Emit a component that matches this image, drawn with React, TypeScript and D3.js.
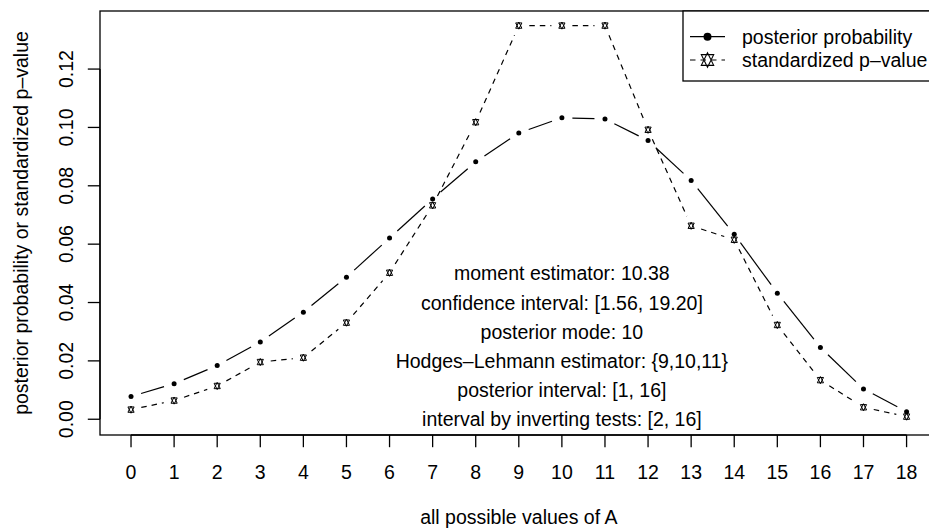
import React from "react";
import * as d3 from "d3";

const possibleA = [0, 1, 2, 3, 4, 5, 6, 7, 8, 9, 10, 11, 12, 13, 14, 15, 16, 17, 18];
const posteriorProb = [
  0.0078, 0.0122, 0.0184, 0.0265, 0.0367, 0.0487, 0.0621, 0.0755, 0.0882, 0.0981,
  0.1033, 0.1029, 0.0955, 0.0818, 0.0634, 0.0432, 0.0246, 0.0104, 0.0026,
];
const stdPValue = [
  0.0033, 0.0064, 0.0114, 0.0196, 0.0211, 0.0331, 0.0502, 0.0733, 0.1018, 0.1349,
  0.1349, 0.1349, 0.0992, 0.0663, 0.0615, 0.0323, 0.0134, 0.0041, 0.0009,
];
const yTicks = [0, 0.02, 0.04, 0.06, 0.08, 0.1, 0.12];
const annotations = [
  "moment estimator: 10.38",
  "confidence interval: [1.56, 19.20]",
  "posterior mode: 10",
  "Hodges\u2013Lehmann estimator: {9,10,11}",
  "posterior interval: [1, 16]",
  "interval by inverting tests: [2, 16]",
];
const annotationY = [0.05, 0.04, 0.03, 0.02, 0.01, 0.0];
const annotationX = 10;
const legendLabels = ["posterior probability", "standardized p\u2013value"];
const xTitle = "all possible values of A";
const yTitle = "posterior probability or standardized p\u2013value";

const W = 929;
const H = 529;
const FONT = "'Liberation Sans', Arial, Helvetica, sans-serif";
const FS = 19.5;

function starPath(cx: number, cy: number, s: number) {
  const r = 1.5551 * s;
  const yc = 0.5 * (0.7776 * s + r);
  const xc = 1.3468 * s;
  const up = `M${cx},${cy - r}L${cx + xc},${cy + yc}L${cx - xc},${cy + yc}Z`;
  const dn = `M${cx},${cy + r}L${cx + xc},${cy - yc}L${cx - xc},${cy - yc}Z`;
  return up + dn;
}

function gapSegments(pts: [number, number][], gap: number) {
  const segs: [number, number, number, number][] = [];
  for (let i = 1; i < pts.length; i++) {
    const [x0, y0] = pts[i - 1];
    const [x1, y1] = pts[i];
    const len = Math.hypot(x1 - x0, y1 - y0);
    const f = gap / len;
    if (f < 0.5) {
      segs.push([
        x0 + f * (x1 - x0),
        y0 + f * (y1 - y0),
        x1 - f * (x1 - x0),
        y1 - f * (y1 - y0),
      ]);
    }
  }
  return segs;
}

export default function App() {
  const x = d3.scaleLinear().domain([-0.72, 18.72]).range([100, 937.6]);
  const y = d3.scaleLinear().domain([-0.0054, 0.1399]).range([435, 11]);
  const left = x.range()[0];
  const right = x.range()[1];
  const top = y.range()[1];
  const bottom = y.range()[0];

  const postPts: [number, number][] = possibleA.map((a, i) => [x(a), y(posteriorProb[i])]);
  const pvPts: [number, number][] = possibleA.map((a, i) => [x(a), y(stdPValue[i])]);
  const GAP = 10.5;
  const postSegs = gapSegments(postPts, GAP);
  const pvSegs = gapSegments(pvPts, GAP);

  const xTickVals = x.ticks(19).filter((t) => Number.isInteger(t) && t >= 0 && t <= 18);

  const legX = 683;
  const legTop = top;
  const legRows = [36.7, 60];

  return (
    <svg
      width={W}
      height={H}
      viewBox={`0 0 ${W} ${H}`}
      style={{ position: "absolute", left: 0, top: 0, background: "#fff" }}
      fontFamily={FONT}
    >
      <rect x={0} y={0} width={W} height={H} fill="#fff" />
      {/* lines */}
      {postSegs.map((s, i) => (
        <line key={"ps" + i} x1={s[0]} y1={s[1]} x2={s[2]} y2={s[3]} stroke="#000" strokeWidth={1.2} />
      ))}
      {pvSegs.map((s, i) => (
        <line
          key={"vs" + i}
          x1={s[0]}
          y1={s[1]}
          x2={s[2]}
          y2={s[3]}
          stroke="#000"
          strokeWidth={1.2}
          strokeDasharray="5.5,5"
        />
      ))}
      {/* points */}
      {postPts.map((p, i) => (
        <circle key={"pp" + i} cx={p[0]} cy={p[1]} r={2.5} fill="#000" />
      ))}
      {pvPts.map((p, i) => (
        <path key={"vp" + i} d={starPath(p[0], p[1], 2.3)} fill="none" stroke="#000" strokeWidth={1} />
      ))}
      {/* annotations */}
      {annotations.map((t, i) => (
        <text
          key={"an" + i}
          x={x(annotationX)}
          y={y(annotationY[i]) + 0.36 * FS}
          fontSize={FS}
          textAnchor="middle"
          fill="#000"
        >
          {t}
        </text>
      ))}
      {/* box */}
      <rect x={left} y={top} width={right - left} height={bottom - top} fill="none" stroke="#000" strokeWidth={1.3} />
      {/* x axis */}
      <line x1={x(0)} x2={x(18)} y1={bottom} y2={bottom} stroke="#000" strokeWidth={1.3} />
      {xTickVals.map((t) => (
        <g key={"xt" + t}>
          <line x1={x(t)} x2={x(t)} y1={bottom} y2={bottom + 12.2} stroke="#000" strokeWidth={1.3} />
          <text x={x(t)} y={478.5} fontSize={FS} textAnchor="middle" fill="#000">
            {String(t)}
          </text>
        </g>
      ))}
      {/* y axis */}
      <line x1={left} x2={left} y1={y(0)} y2={y(0.12)} stroke="#000" strokeWidth={1.3} />
      {yTicks.map((t) => (
        <g key={"yt" + t}>
          <line x1={left - 12.2} x2={left} y1={y(t)} y2={y(t)} stroke="#000" strokeWidth={1.3} />
          <text
            transform={`translate(${73},${y(t)}) rotate(-90)`}
            fontSize={FS}
            textAnchor="middle"
            fill="#000"
          >
            {d3.format(".2f")(t)}
          </text>
        </g>
      ))}
      {/* titles */}
      <text x={(left + right) / 2} y={524} fontSize={FS} textAnchor="middle" fill="#000">
        {xTitle}
      </text>
      <text
        transform={`translate(28,${(top + bottom) / 2}) rotate(-90)`}
        fontSize={FS}
        textAnchor="middle"
        fill="#000"
      >
        {yTitle}
      </text>
      {/* legend */}
      <rect x={legX} y={legTop} width={right - legX} height={81 - legTop} fill="#fff" stroke="#000" strokeWidth={1.3} />
      <line x1={690} x2={725} y1={legRows[0]} y2={legRows[0]} stroke="#000" strokeWidth={1.2} />
      <circle cx={707.5} cy={legRows[0]} r={4} fill="#000" />
      <line x1={690} x2={725} y1={legRows[1]} y2={legRows[1]} stroke="#000" strokeWidth={1.2} strokeDasharray="5.5,5" />
      <path d={starPath(707.5, legRows[1], 4.6)} fill="#fff" stroke="#000" strokeWidth={1.1} />
      {legendLabels.map((l, i) => (
        <text key={"lg" + i} x={742} y={legRows[i] + 0.36 * FS} fontSize={FS} fill="#000">
          {l}
        </text>
      ))}
    </svg>
  );
}
